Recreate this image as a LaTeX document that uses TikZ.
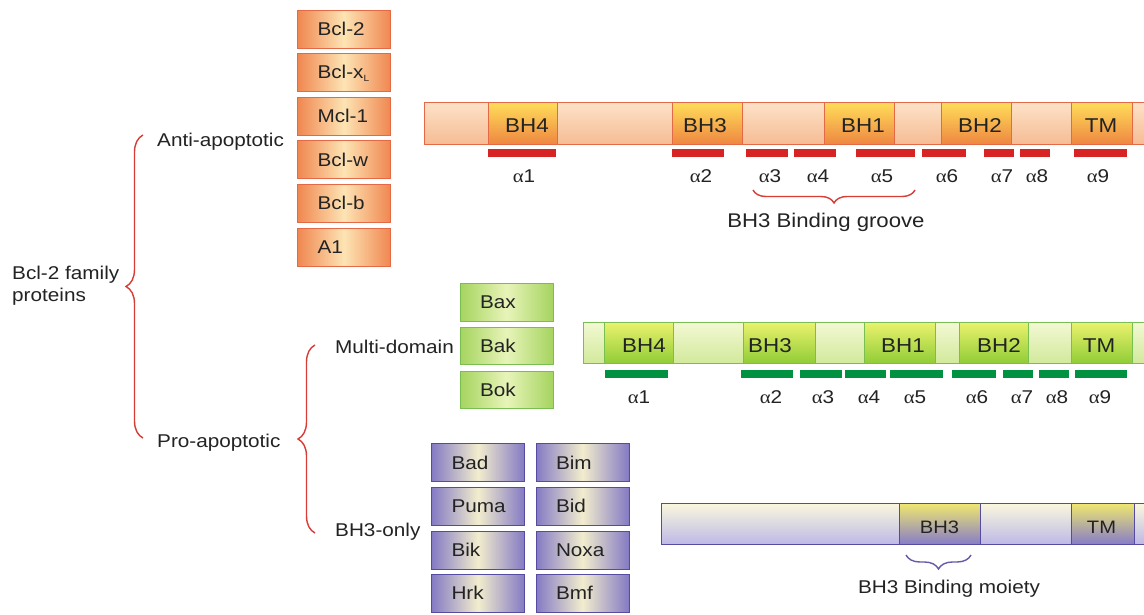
\documentclass[tikz,border=0pt]{standalone}
\usepackage{fontspec}
\setmainfont{Liberation Sans}[FakeStretch=1.12]
\newfontfamily\grk{Liberation Serif}[FakeStretch=1.12]
\usetikzlibrary{decorations.pathreplacing,calc}
\definecolor{txtc}{RGB}{35,35,35}
\definecolor{orE}{RGB}{240,135,80}
\definecolor{orM}{RGB}{253,228,180}
\definecolor{orB}{RGB}{228,105,70}
\definecolor{orBT}{RGB}{253,226,200}
\definecolor{orBB}{RGB}{246,188,148}
\definecolor{orDT}{RGB}{255,222,90}
\definecolor{orDB}{RGB}{238,135,65}
\definecolor{ored}{RGB}{215,35,35}
\definecolor{grE}{RGB}{165,212,95}
\definecolor{grM}{RGB}{232,244,185}
\definecolor{grB}{RGB}{120,190,80}
\definecolor{grBT}{RGB}{243,249,212}
\definecolor{grBB}{RGB}{210,233,155}
\definecolor{grDT}{RGB}{235,242,110}
\definecolor{grDB}{RGB}{145,205,55}
\definecolor{ggreen}{RGB}{0,145,65}
\definecolor{puE}{RGB}{132,122,196}
\definecolor{puM}{RGB}{242,237,205}
\definecolor{puB}{RGB}{85,75,160}
\definecolor{puBT}{RGB}{250,248,222}
\definecolor{puBB}{RGB}{190,185,230}
\definecolor{puDT}{RGB}{240,232,110}
\definecolor{puDB}{RGB}{135,125,200}
\definecolor{bred}{RGB}{215,60,55}
\definecolor{bpur}{RGB}{100,90,170}
% name, x1, x2, y1, y2, style
\newcommand{\mydom}[6]{\node[#6, minimum width={#3-#2}, minimum height={#5-#4}] (#1) at ({(#2+#3)/2},{(#4+#5)/2}) {};}
\newcommand{\mybar}[5]{\fill[#5] (#1,#3) rectangle (#2,#4);}
\begin{document}
\begin{tikzpicture}[x=1pt,y=-1pt,
  txt/.style={text=txtc, font=\fontsize{18.5}{22}\selectfont, inner sep=0pt},
  protbox/.style={txt, line width=1pt, minimum height=38pt, text width=53pt, inner xsep=20pt, align=left, text height=13pt, text depth=0pt},
  abox/.style={protbox, draw=orB, left color=orE, right color=orE, middle color=orM},
  gbox/.style={protbox, draw=grB, left color=grE, right color=grE, middle color=grM},
  pbox/.style={protbox, draw=puB, left color=puE, right color=puE, middle color=puM},
  seg/.style={inner sep=0pt, line width=1pt},
  obase/.style={seg, draw=orB, top color=orBT, bottom color=orBB},
  odom/.style={seg, draw=orB, top color=orDT, bottom color=orDB},
  gbase/.style={seg, draw=grB, top color=grBT, bottom color=grBB},
  gdom/.style={seg, draw=grB, top color=grDT, bottom color=grDB},
  pbase/.style={seg, draw=puB, top color=puBT, bottom color=puBB},
  pdom/.style={seg, draw=puB, top color=puDT, bottom color=puDB},
  dlab/.style={txt, anchor=base, font=\fontsize{20}{22}\selectfont},
  plab/.style={txt, anchor=base, font=\fontsize{18}{22}\selectfont},
  alab/.style={txt, anchor=base},
  brc/.style={line width=1.4pt, decorate},
]
\clip (0,0) rectangle (1144,614);
\fill[white] (0,0) rectangle (1144,614);

% left labels
\node[txt, anchor=base west] (fam1) at (12,279) {Bcl-2 family};
\node[txt, anchor=base west] (fam2) at (12,301) {proteins};
\node[txt, anchor=base west] (anti) at (157,146) {Anti-apoptotic};
\node[txt, anchor=base west] (pro) at (157,447) {Pro-apoptotic};
\node[txt, anchor=base west] (multi) at (335,353) {Multi-domain};
\node[txt, anchor=base west] (bh3only) at (335,536) {BH3-only};

% braces
\draw[brc, bred, decoration={brace,amplitude=17pt}] (143,438) -- (143,135);
\draw[brc, bred, decoration={brace,amplitude=17pt}] (315,533) -- (315,345);
\draw[brc, bred, decoration={brace,amplitude=13pt}] (915,190) -- (753,190);
\draw[brc, bpur, decoration={brace,amplitude=14pt}] (971,555) -- (906,555);

% anti-apoptotic boxes
\node[abox] (bcl2) at (344,29) {Bcl-2};
\node[abox] (bclxl) at (344,72) {Bcl-x\raisebox{-3pt}{\fontsize{9}{9}\selectfont L}};
\node[abox] (mcl1) at (344,116) {Mcl-1};
\node[abox] (bclw) at (344,159.5) {Bcl-w};
\node[abox] (bclb) at (344,203) {Bcl-b};
\node[abox] (a1) at (344,247) {A1};

% multi-domain boxes
\node[gbox, minimum height=38pt] (bax) at (506.5,302) {Bax};
\node[gbox, minimum height=37pt] (bak) at (506.5,345.5) {Bak};
\node[gbox, minimum height=37pt] (bok) at (506.5,389.5) {Bok};

% BH3-only boxes
\node[pbox] (bad) at (478,462.5) {Bad};
\node[pbox] (puma) at (478,506) {Puma};
\node[pbox] (bik) at (478,550) {Bik};
\node[pbox] (hrk) at (478,593) {Hrk};
\node[pbox] (bim) at (582.5,462.5) {Bim};
\node[pbox] (bid) at (582.5,506) {Bid};
\node[pbox] (noxa) at (582.5,550) {Noxa};
\node[pbox] (bmf) at (582.5,593) {Bmf};

% anti-apoptotic bar
\mydom{obar}{424}{1170}{102}{144}{obase}
\mydom{obh4}{488}{557}{102}{144}{odom}
\mydom{obh3}{672}{742}{102}{144}{odom}
\mydom{obh1}{824}{894}{102}{144}{odom}
\mydom{obh2}{941}{1011}{102}{144}{odom}
\mydom{otm}{1071}{1132}{102}{144}{odom}
\node[dlab] (obh4t) at (527,132) {BH4};
\node[dlab] (obh3t) at (705,132) {BH3};
\node[dlab] (obh1t) at (863,132) {BH1};
\node[dlab] (obh2t) at (980,132) {BH2};
\node[dlab] (otmt) at (1101,132) {TM};
\mybar{488}{556}{149}{157}{ored}
\mybar{672}{724}{149}{157}{ored}
\mybar{746}{788}{149}{157}{ored}
\mybar{794}{836}{149}{157}{ored}
\mybar{856}{915}{149}{157}{ored}
\mybar{922}{966}{149}{157}{ored}
\mybar{984}{1014}{149}{157}{ored}
\mybar{1020}{1050}{149}{157}{ored}
\mybar{1074}{1127}{149}{157}{ored}
\node[alab] (oa1) at (524,182) {{\grk α}1};
\node[alab] (oa2) at (701,182) {{\grk α}2};
\node[alab] (oa3) at (770,182) {{\grk α}3};
\node[alab] (oa4) at (818,182) {{\grk α}4};
\node[alab] (oa5) at (882,182) {{\grk α}5};
\node[alab] (oa6) at (947,182) {{\grk α}6};
\node[alab] (oa7) at (1002,182) {{\grk α}7};
\node[alab] (oa8) at (1037,182) {{\grk α}8};
\node[alab] (oa9) at (1098,182) {{\grk α}9};
\node[alab, font=\fontsize{19.8}{22}\selectfont] (groove) at (826,227) {BH3 Binding groove};

% multi-domain bar
\mydom{gbar}{583}{1170}{322}{363}{gbase}
\mydom{gbh4}{604}{673}{322}{363}{gdom}
\mydom{gbh3}{743}{815}{322}{363}{gdom}
\mydom{gbh1}{864}{935}{322}{363}{gdom}
\mydom{gbh2}{959}{1028}{322}{363}{gdom}
\mydom{gtm}{1071}{1132}{322}{363}{gdom}
\node[dlab] (gbh4t) at (644,352) {BH4};
\node[dlab] (gbh3t) at (770,352) {BH3};
\node[dlab] (gbh1t) at (903,352) {BH1};
\node[dlab] (gbh2t) at (999,352) {BH2};
\node[dlab] (gtmt) at (1099,352) {TM};
\mybar{605}{668}{370}{378}{ggreen}
\mybar{741}{793}{370}{378}{ggreen}
\mybar{800}{842}{370}{378}{ggreen}
\mybar{845}{886}{370}{378}{ggreen}
\mybar{890}{943}{370}{378}{ggreen}
\mybar{952}{996}{370}{378}{ggreen}
\mybar{1003}{1033}{370}{378}{ggreen}
\mybar{1039}{1069}{370}{378}{ggreen}
\mybar{1075}{1127}{370}{378}{ggreen}
\node[alab] (ga1) at (639,403) {{\grk α}1};
\node[alab] (ga2) at (771,403) {{\grk α}2};
\node[alab] (ga3) at (823,403) {{\grk α}3};
\node[alab] (ga4) at (869,403) {{\grk α}4};
\node[alab] (ga5) at (915,403) {{\grk α}5};
\node[alab] (ga6) at (977,403) {{\grk α}6};
\node[alab] (ga7) at (1022,403) {{\grk α}7};
\node[alab] (ga8) at (1057,403) {{\grk α}8};
\node[alab] (ga9) at (1100,403) {{\grk α}9};

% BH3-only bar
\mydom{pbar}{661}{1170}{503}{544}{pbase}
\mydom{pbh3}{899}{980}{503}{544}{pdom}
\mydom{ptm}{1071}{1134}{503}{544}{pdom}
\node[plab] (pbh3t) at (939.5,533) {BH3};
\node[plab] (ptmt) at (1101.5,533) {TM};
\node[alab] (moiety) at (949,593) {BH3 Binding moiety};
\end{tikzpicture}
\end{document}
